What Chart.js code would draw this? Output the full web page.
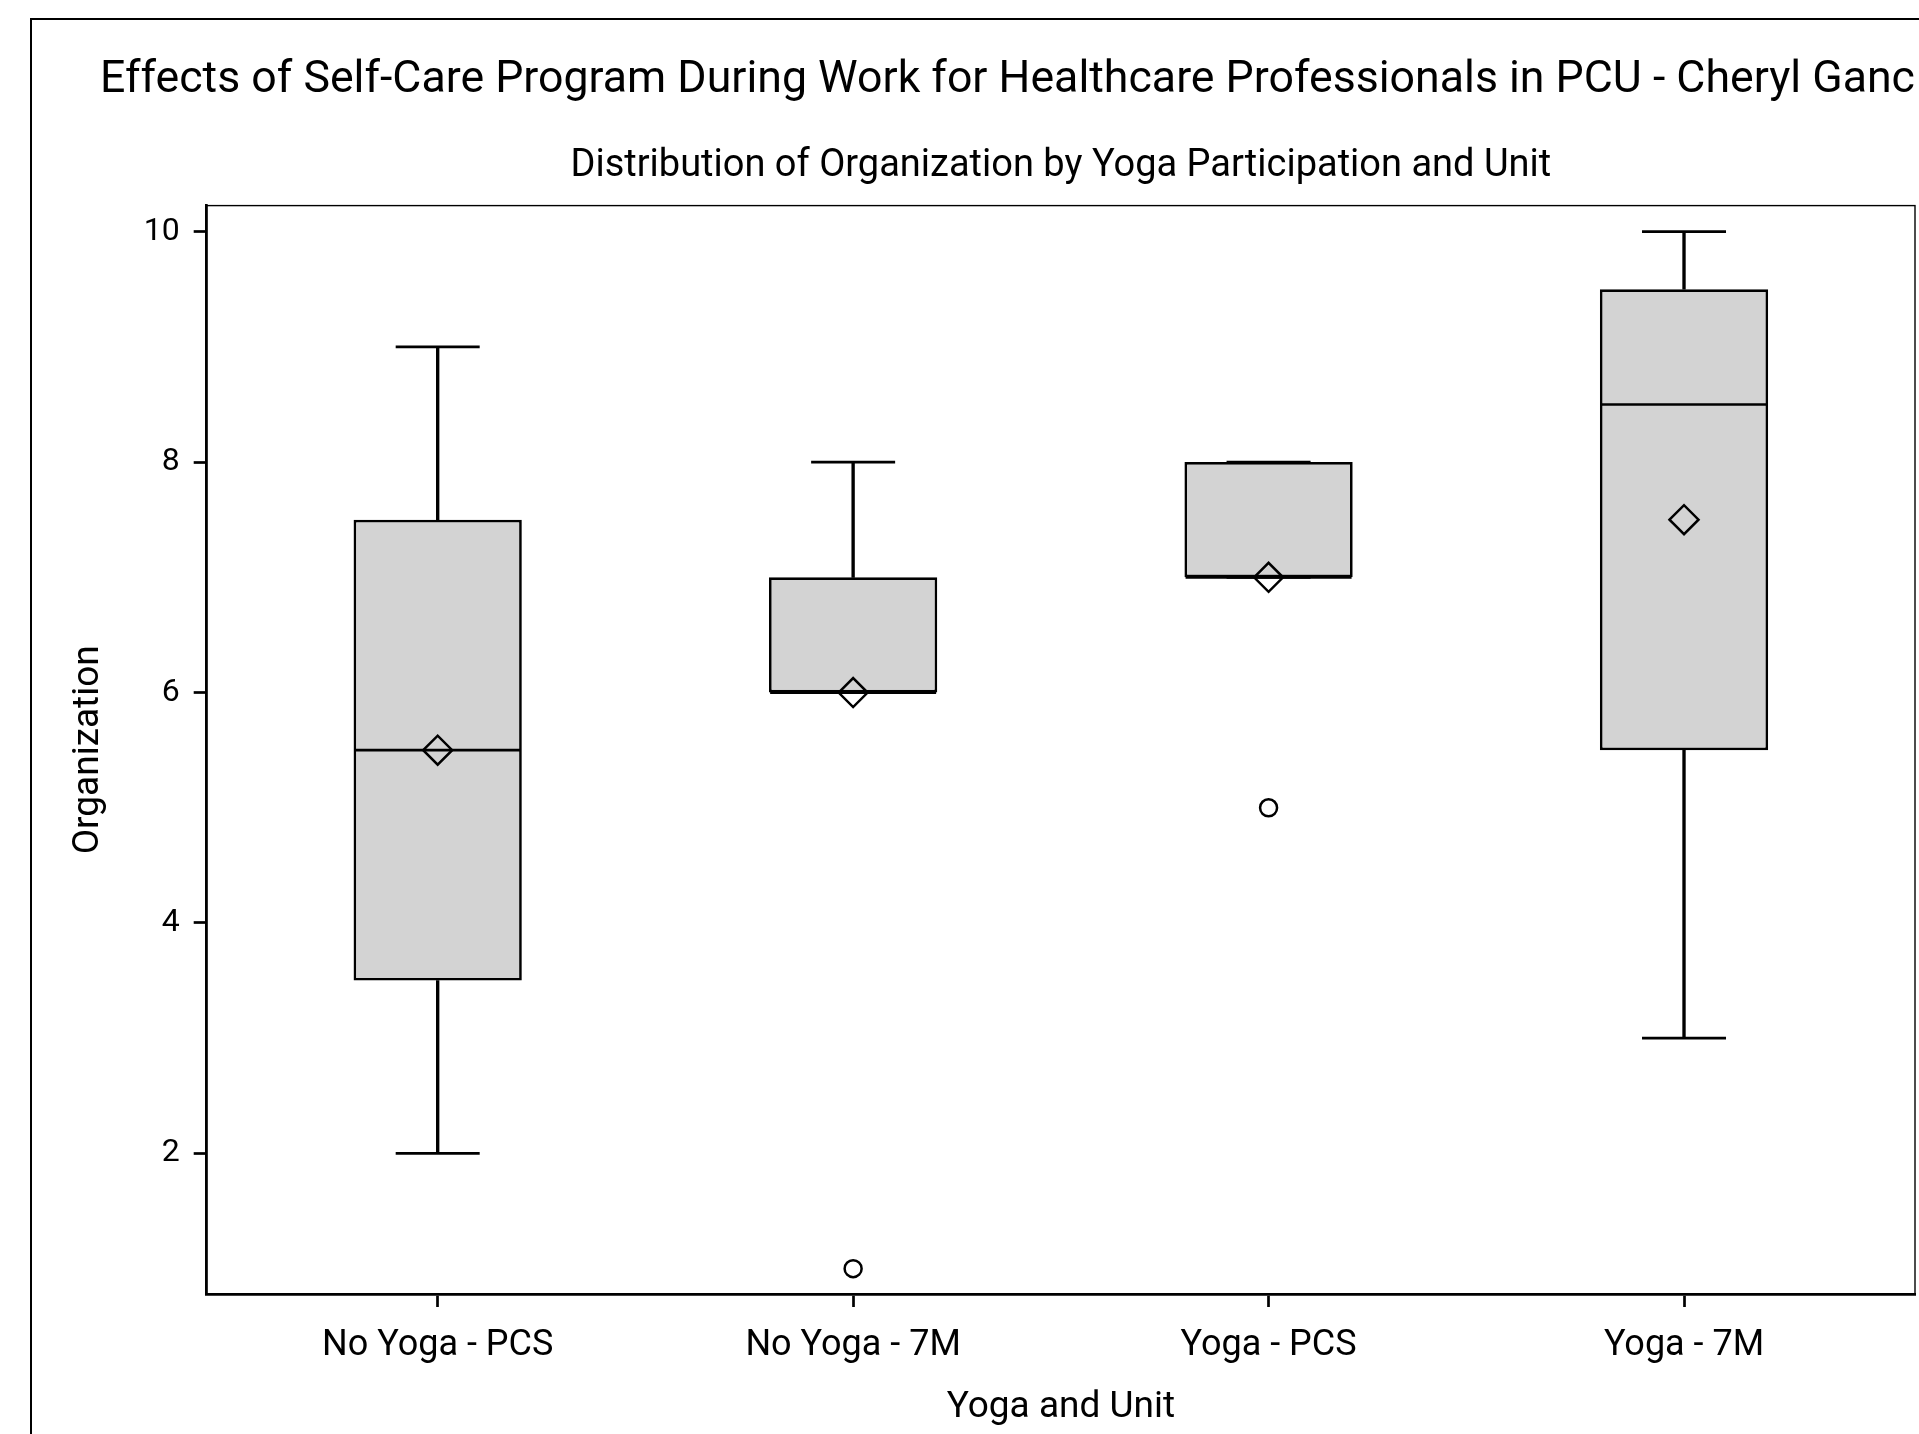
<!DOCTYPE html>
<html>
<head>
<meta charset="utf-8">
<title>Distribution of Organization by Yoga Participation and Unit</title>
<script src="https://cdn.jsdelivr.net/npm/chart.js@4.4.0/dist/chart.umd.min.js"></script>
<style>
  html, body { margin: 0; padding: 0; background: #fff; overflow: hidden; }
  #wrap { position: relative; width: 1919px; height: 1434px; overflow: hidden; }
  #frame { position: absolute; left: 30px; top: 18px; width: 2000px; height: 1500px; border: 2px solid #000; box-sizing: border-box; }
  canvas { position: absolute; left: 0; top: 0; }
</style>
</head>
<body>
<div id="wrap">
  <div id="frame"></div>
  <canvas id="myChart" width="1919" height="1434"></canvas>
</div>
<script>
var categories = ["No Yoga - PCS", "No Yoga - 7M", "Yoga - PCS", "Yoga - 7M"];
var q1 = [3.5, 6, 7, 5.5];
var q3 = [7.5, 7, 8, 9.5];
var medians = [5.5, 6, 7, 8.5];
var means = [5.5, 6, 7, 7.5];
var whiskerLow = [2, 6, 7, 3];
var whiskerHigh = [9, 8, 8, 10];
var outlierCat = [1, 2];
var outlierValue = [1, 5];
var yTicks = [2, 4, 6, 8, 10];

var mainTitle = "Effects of Self-Care Program During Work for Healthcare Professionals in PCU - Cheryl Ganc";
var subTitle = "Distribution of Organization by Yoga Participation and Unit";

Chart.defaults.font.family = "Roboto";
Chart.defaults.color = "#000";

function ranges(lo, hi) {
  return categories.map(function (c, i) { return { x: i, y: [lo[i], hi[i]] }; });
}
function points(vals) {
  return vals.map(function (v, i) { return { x: i, y: v }; });
}

var capPoints = points(whiskerLow).concat(points(whiskerHigh));
var outlierPoints = outlierCat.map(function (c, k) { return { x: c, y: outlierValue[k] }; });

// thin border round the plot area (axes draw the thicker left/bottom lines)
var plotFrame = {
  id: "plotFrame",
  beforeDatasetsDraw: function (chart) {
    var ctx = chart.ctx, a = chart.chartArea;
    ctx.save();
    ctx.strokeStyle = "#000";
    ctx.lineWidth = 1.4;
    ctx.strokeRect(a.left, a.top, a.right - a.left, a.bottom - a.top);
    ctx.restore();
  }
};

var line = 2.7;
var ctx = document.getElementById("myChart");

var myChart = new Chart(ctx, {
  type: "bar",
  data: {
    datasets: [
      {
        type: "scatter",
        label: "Outliers",
        data: outlierPoints,
        pointStyle: "circle",
        pointRadius: 8.5,
        borderWidth: 2.5,
        borderColor: "#000",
        backgroundColor: "rgba(0,0,0,0)"
      },
      {
        type: "scatter",
        label: "Mean",
        data: points(means),
        pointStyle: "rectRot",
        pointRadius: 14.5,
        borderWidth: 2.5,
        borderColor: "#000",
        backgroundColor: "rgba(0,0,0,0)"
      },
      {
        type: "scatter",
        label: "Median",
        data: points(medians),
        pointStyle: "line",
        pointRadius: 83,
        borderWidth: line,
        borderColor: "#000"
      },
      {
        type: "scatter",
        label: "Whisker ends",
        data: capPoints,
        pointStyle: "line",
        pointRadius: 42,
        borderWidth: line,
        borderColor: "#000"
      },
      {
        label: "Upper whisker",
        data: ranges(q3, whiskerHigh),
        grouped: false,
        barThickness: line,
        backgroundColor: "#000",
        borderWidth: 0
      },
      {
        label: "Lower whisker",
        data: ranges(whiskerLow, q1),
        grouped: false,
        barThickness: line,
        backgroundColor: "#000",
        borderWidth: 0
      },
      {
        label: "Interquartile range",
        data: ranges(q1, q3),
        grouped: false,
        categoryPercentage: 1,
        barPercentage: 0.405,
        backgroundColor: "#d3d3d3",
        borderColor: "#000",
        borderWidth: line,
        borderSkipped: false
      }
    ]
  },
  options: {
    responsive: false,
    animation: false,
    layout: { autoPadding: false, padding: { left: 100, right: 4, top: 0, bottom: 0 } },
    plugins: {
      legend: { display: false },
      tooltip: { enabled: false },
      title: {
        display: true,
        text: mainTitle,
        align: "start",
        color: "#000",
        font: { size: 45, weight: "normal" },
        padding: { top: 54, bottom: 0 }
      },
      subtitle: {
        display: true,
        text: subTitle,
        fullSize: false,
        color: "#000",
        font: { size: 38, weight: "normal" },
        padding: { top: 36, bottom: 16 }
      }
    },
    scales: {
      x: {
        type: "linear",
        min: -0.556,
        max: 3.556,
        offset: false,
        afterBuildTicks: function (s) {
          s.ticks = categories.map(function (c, i) { return { value: i }; });
        },
        afterFit: function (s) {
          s.height = 140;
          s.paddingLeft = 0;
          s.paddingRight = 0;
        },
        grid: { drawOnChartArea: false, offset: false, tickLength: 13, tickWidth: line, tickColor: "#000" },
        border: { display: true, color: "#000", width: line },
        ticks: {
          padding: 17,
          autoSkip: false,
          maxRotation: 0,
          font: { size: 36 },
          callback: function (v) { return categories[v]; }
        },
        title: { display: true, text: "Yoga and Unit", font: { size: 37 }, padding: { top: 0, bottom: 4.5 } }
      },
      y: {
        min: 0.78,
        max: 10.226,
        afterBuildTicks: function (s) {
          s.ticks = yTicks.map(function (v) { return { value: v }; });
        },
        afterFit: function (s) {
          s.width = 106.7;
          s.paddingTop = 0;
          s.paddingBottom = 0;
        },
        grid: { drawOnChartArea: false, tickLength: 13, tickWidth: line, tickColor: "#000" },
        border: { display: true, color: "#000", width: line },
        ticks: { padding: 14, font: { size: 32 } },
        title: { display: true, text: "Organization", font: { size: 37 }, padding: { top: -33.6, bottom: 0 } }
      }
    }
  },
  plugins: [plotFrame]
});
</script>
</body>
</html>
